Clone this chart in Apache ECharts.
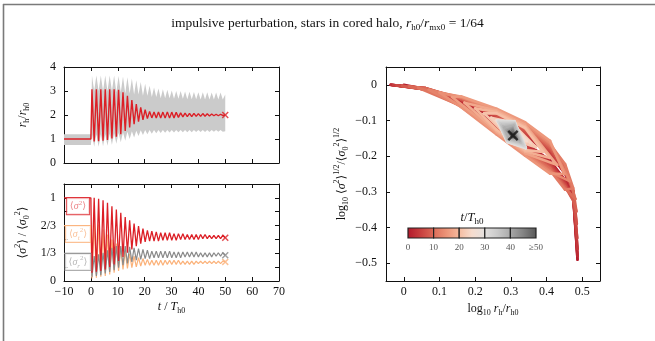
<!DOCTYPE html>
<html>
<head>
<meta charset="utf-8">
<title>impulsive perturbation, stars in cored halo</title>
<script src="https://cdn.jsdelivr.net/npm/echarts@6.0.0/dist/echarts.min.js"></script>
<style>
html,body{margin:0;padding:0;background:#fff;}
#chart{width:655px;height:341px;}
</style>
</head>
<body>
<div id="chart"></div>
<script>
// ---- time samples (oscillation extrema) shared by the two left panels ----
const tSamples = [-10, 0,
  0.40, 1.23, 2.05, 2.88, 3.70, 4.53, 5.35, 6.18, 7.00, 7.83,
  8.65, 9.48, 10.30, 11.13, 11.95, 12.78, 13.60, 14.43, 15.25, 16.08,
  16.90, 17.73, 18.55, 19.38, 20.20, 21.03, 21.85, 22.68, 23.50, 24.33,
  25.15, 25.98, 26.80, 27.63, 28.45, 29.28, 30.10, 30.93, 31.75, 32.58,
  33.40, 34.23, 35.05, 35.88, 36.70, 37.53, 38.35, 39.18, 40.00, 40.83,
  41.65, 42.48, 43.30, 44.13, 44.95, 45.78, 46.60, 47.43, 48.25, 49.08,
  50];

// half-light radius r_h / r_h0
const rhRatio = [1, 1,
  3.07, 0.90, 3.07, 0.91, 3.07, 0.93, 3.07, 0.96, 3.07, 1.02,
  3.07, 1.10, 3.05, 1.20, 2.95, 1.33, 2.80, 1.48, 2.62, 1.62,
  2.45, 1.72, 2.32, 1.80, 2.22, 1.85, 2.15, 1.88, 2.12, 1.88,
  2.12, 1.88, 2.12, 1.87, 2.13, 1.87, 2.12, 1.88, 2.11, 1.90,
  2.09, 1.92, 2.08, 1.93, 2.07, 1.93, 2.07, 1.94, 2.06, 1.94,
  2.06, 1.95, 2.05, 1.96, 2.04, 1.97, 2.03, 1.97, 2.03, 1.98,
  2.00];

// spread of r_h / r_h0 (upper and lower edge of the grey band)
const rhBandHi = [1.20, 1.20,
  3.65, 3.00, 3.65, 3.00, 3.65, 3.00, 3.65, 3.00, 3.65, 3.00,
  3.65, 2.95, 3.63, 2.95, 3.60, 2.90, 3.57, 2.90, 3.52, 2.85,
  3.45, 2.85, 3.38, 2.80, 3.30, 2.80, 3.22, 2.75, 3.15, 2.75,
  3.10, 2.70, 3.07, 2.70, 3.05, 2.70, 3.02, 2.68, 3.00, 2.68,
  3.00, 2.68, 2.98, 2.66, 2.97, 2.66, 2.96, 2.66, 2.95, 2.65,
  2.95, 2.65, 2.95, 2.65, 2.94, 2.65, 2.94, 2.65, 2.94, 2.65,
  2.85];
const rhBandLo = [0.75, 0.75,
  1.20, 0.68, 1.20, 0.68, 1.20, 0.70, 1.20, 0.72, 1.22, 0.76,
  1.24, 0.80, 1.26, 0.86, 1.28, 0.93, 1.30, 1.00, 1.32, 1.06,
  1.34, 1.12, 1.36, 1.17, 1.37, 1.20, 1.38, 1.22, 1.38, 1.24,
  1.38, 1.25, 1.38, 1.26, 1.38, 1.27, 1.38, 1.27, 1.38, 1.28,
  1.38, 1.28, 1.38, 1.28, 1.38, 1.28, 1.38, 1.29, 1.38, 1.29,
  1.38, 1.29, 1.38, 1.29, 1.38, 1.30, 1.38, 1.30, 1.38, 1.30,
  1.32];

// velocity dispersions relative to <sigma_0^2>
const sigmaTot = [1, 1,
  0.10, 1.00, 0.11, 0.99, 0.12, 0.97, 0.14, 0.94, 0.17, 0.90,
  0.20, 0.86, 0.24, 0.82, 0.29, 0.77, 0.34, 0.73, 0.38, 0.69,
  0.42, 0.66, 0.45, 0.63, 0.47, 0.61, 0.48, 0.60, 0.48, 0.59,
  0.48, 0.58, 0.49, 0.58, 0.49, 0.58, 0.49, 0.57, 0.49, 0.57,
  0.50, 0.57, 0.50, 0.56, 0.50, 0.56, 0.50, 0.56, 0.50, 0.56,
  0.51, 0.56, 0.51, 0.55, 0.51, 0.55, 0.51, 0.55, 0.51, 0.55,
  0.52];
const sigmaTan = [0.6667, 0.6667,
  0.03, 0.72, 0.04, 0.68, 0.05, 0.62, 0.06, 0.56, 0.08, 0.50,
  0.10, 0.45, 0.12, 0.40, 0.14, 0.36, 0.15, 0.33, 0.16, 0.30,
  0.17, 0.28, 0.18, 0.27, 0.19, 0.26, 0.19, 0.25, 0.19, 0.25,
  0.19, 0.25, 0.19, 0.25, 0.20, 0.25, 0.20, 0.25, 0.20, 0.25,
  0.20, 0.24, 0.20, 0.24, 0.20, 0.24, 0.20, 0.24, 0.21, 0.24,
  0.21, 0.24, 0.21, 0.24, 0.21, 0.24, 0.21, 0.24, 0.21, 0.24,
  0.23];
const sigmaRad = [0.3333, 0.3333,
  0.05, 0.30, 0.06, 0.32, 0.07, 0.34, 0.09, 0.37, 0.11, 0.40,
  0.13, 0.42, 0.16, 0.42, 0.19, 0.42, 0.21, 0.41, 0.23, 0.40,
  0.25, 0.39, 0.26, 0.38, 0.27, 0.37, 0.27, 0.36, 0.28, 0.36,
  0.28, 0.36, 0.28, 0.36, 0.28, 0.36, 0.28, 0.35, 0.28, 0.35,
  0.28, 0.35, 0.29, 0.35, 0.29, 0.35, 0.29, 0.35, 0.29, 0.34,
  0.29, 0.34, 0.29, 0.34, 0.29, 0.34, 0.30, 0.34, 0.30, 0.34,
  0.31];

// trajectory in the log plane: [t/T_h0, log10 r_h/r_h0, log10 <sigma^2>^1/2/<sigma_0^2>^1/2]
const lensPath = [
  [0, 0, 0],
  [0.05, 0.06, -0.012], [0.1, 0.16, -0.050], [0.15, 0.26, -0.110], [0.2, 0.34, -0.161],
  [0.25, 0.41, -0.212], [0.3, 0.452, -0.267], [0.35, 0.475, -0.315], [0.4, 0.487, -0.49],
  [0.5, 0.475, -0.305], [0.6, 0.452, -0.249], [0.7, 0.41, -0.194], [0.8, 0.34, -0.143],
  [0.9, 0.26, -0.096], [1.0, 0.16, -0.044], [1.1, 0.06, -0.010], [1.23, -0.037, 0],
  [1.3, 0.06, -0.012], [1.4, 0.16, -0.051], [1.5, 0.26, -0.112], [1.6, 0.34, -0.164],
  [1.7, 0.41, -0.215], [1.8, 0.452, -0.269], [1.9, 0.475, -0.316], [2.05, 0.487, -0.48],
  [2.15, 0.475, -0.304], [2.25, 0.452, -0.247], [2.35, 0.41, -0.191], [2.45, 0.34, -0.140],
  [2.55, 0.26, -0.094], [2.65, 0.16, -0.043], [2.75, 0.06, -0.010], [2.88, -0.036, 0],
  [2.95, 0.06, -0.012], [3.05, 0.16, -0.052], [3.15, 0.26, -0.114], [3.25, 0.34, -0.166],
  [3.35, 0.41, -0.217], [3.45, 0.452, -0.272], [3.55, 0.475, -0.318], [3.7, 0.487, -0.46],
  [3.8, 0.475, -0.303], [3.9, 0.452, -0.245], [4.0, 0.41, -0.189], [4.1, 0.34, -0.138],
  [4.2, 0.26, -0.092], [4.3, 0.16, -0.043], [4.4, 0.06, -0.010], [4.53, -0.03, -0.001],
  [4.6, 0.06, -0.013], [4.7, 0.16, -0.053], [4.8, 0.26, -0.117], [4.9, 0.34, -0.171],
  [5.0, 0.41, -0.221], [5.1, 0.452, -0.276], [5.2, 0.475, -0.320], [5.35, 0.486, -0.43],
  [5.45, 0.475, -0.300], [5.55, 0.452, -0.240], [5.65, 0.41, -0.185], [5.75, 0.34, -0.133],
  [5.85, 0.26, -0.089], [5.95, 0.16, -0.041], [6.05, 0.06, -0.009], [6.18, -0.02, -0.002],
  [6.25, 0.06, -0.013], [6.35, 0.16, -0.055], [6.45, 0.26, -0.121], [6.55, 0.34, -0.176],
  [6.65, 0.41, -0.226], [6.75, 0.452, -0.281], [6.85, 0.475, -0.323], [7.0, 0.485, -0.39],
  [7.1, 0.475, -0.298], [7.2, 0.452, -0.236], [7.3, 0.41, -0.180], [7.4, 0.34, -0.129],
  [7.5, 0.26, -0.085], [7.6, 0.16, -0.040], [7.7, 0.06, -0.009], [7.83, -0.005, -0.003],
  [7.9, 0.06, -0.013], [8.0, 0.16, -0.056], [8.1, 0.26, -0.125], [8.2, 0.34, -0.180],
  [8.3, 0.41, -0.231], [8.4, 0.452, -0.285], [8.5, 0.475, -0.325], [8.65, 0.484, -0.355],
  [8.75, 0.475, -0.295], [8.85, 0.452, -0.231], [8.95, 0.41, -0.175], [9.05, 0.34, -0.124],
  [9.15, 0.26, -0.081], [9.25, 0.16, -0.038], [9.35, 0.06, -0.009], [9.48, 0.015, -0.005],
  [9.55, 0.06, -0.014], [9.65, 0.16, -0.058], [9.8, 0.26, -0.128], [9.95, 0.34, -0.185],
  [10.05, 0.41, -0.235], [10.15, 0.452, -0.290], [10.3, 0.481, -0.32],
  [10.4, 0.452, -0.226], [10.5, 0.41, -0.171], [10.65, 0.34, -0.119], [10.8, 0.26, -0.078],
  [10.95, 0.16, -0.036], [11.13, 0.04, -0.008],
  [11.25, 0.16, -0.059], [11.4, 0.26, -0.132], [11.55, 0.34, -0.190], [11.7, 0.41, -0.240],
  [11.8, 0.452, -0.294], [11.95, 0.475, -0.29],
  [12.05, 0.452, -0.222], [12.2, 0.41, -0.166], [12.35, 0.34, -0.114], [12.5, 0.26, -0.074],
  [12.65, 0.16, -0.035], [12.78, 0.07, -0.014],
  [12.9, 0.16, -0.061], [13.05, 0.26, -0.135], [13.2, 0.34, -0.194], [13.4, 0.41, -0.244],
  [13.6, 0.465, -0.27],
  [13.75, 0.41, -0.162], [13.9, 0.34, -0.110], [14.05, 0.26, -0.071], [14.25, 0.16, -0.033],
  [14.43, 0.10, -0.022],
  [14.5, 0.16, -0.062], [14.7, 0.26, -0.139], [14.9, 0.34, -0.199], [15.05, 0.41, -0.249],
  [15.25, 0.45, -0.25],
  [15.4, 0.41, -0.157], [15.55, 0.34, -0.105], [15.75, 0.26, -0.067], [15.95, 0.16, -0.032],
  [16.08, 0.135, -0.034],
  [16.35, 0.26, -0.134], [16.6, 0.34, -0.192], [16.9, 0.43, -0.225],
  [17.15, 0.34, -0.112], [17.45, 0.26, -0.072], [17.73, 0.17, -0.05],
  [18.0, 0.26, -0.130], [18.3, 0.34, -0.187], [18.55, 0.41, -0.205],
  [18.8, 0.34, -0.117], [19.1, 0.26, -0.076], [19.38, 0.2, -0.066],
  [19.55, 0.26, -0.126], [19.95, 0.34, -0.183], [20.2, 0.39, -0.188],
  [20.45, 0.34, -0.121], [20.8, 0.26, -0.080], [21.03, 0.225, -0.08],
  [21.45, 0.30, -0.152], [21.85, 0.37, -0.175],
  [22.25, 0.30, -0.104], [22.68, 0.245, -0.092],
  [23.1, 0.30, -0.150], [23.5, 0.355, -0.163],
  [23.9, 0.30, -0.106], [24.33, 0.258, -0.1],
  [24.75, 0.30, -0.148], [25.15, 0.345, -0.157],
  [25.55, 0.30, -0.108], [25.98, 0.266, -0.106],
  [26.4, 0.30, -0.148], [26.8, 0.338, -0.152],
  [27.2, 0.30, -0.104], [27.63, 0.262, -0.1],
  [28.05, 0.29, -0.16], [28.45, 0.342, -0.176],
  [28.85, 0.31, -0.102], [29.28, 0.262, -0.1],
  [29.7, 0.29, -0.16], [30.1, 0.342, -0.178],
  [30.5, 0.31, -0.103], [30.93, 0.264, -0.101],
  [31.35, 0.29, -0.158], [31.75, 0.34, -0.174],
  [32.15, 0.31, -0.105], [32.58, 0.266, -0.104],
  [33.0, 0.29, -0.156], [33.4, 0.336, -0.17],
  [33.8, 0.31, -0.107], [34.23, 0.27, -0.108],
  [34.65, 0.29, -0.154], [35.05, 0.332, -0.166],
  [35.45, 0.31, -0.109], [35.88, 0.274, -0.112],
  [36.3, 0.29, -0.152], [36.7, 0.328, -0.162],
  [37.1, 0.31, -0.112], [37.53, 0.278, -0.116],
  [37.95, 0.292, -0.15], [38.35, 0.325, -0.158],
  [38.75, 0.308, -0.115], [39.18, 0.282, -0.12],
  [39.6, 0.294, -0.148], [40.0, 0.322, -0.154],
  [40.4, 0.305, -0.12], [40.83, 0.288, -0.126],
  [41.25, 0.305, -0.147], [41.65, 0.318, -0.15],
  [42.05, 0.305, -0.123], [42.48, 0.291, -0.129],
  [42.9, 0.305, -0.147], [43.3, 0.316, -0.149],
  [43.7, 0.305, -0.126], [44.13, 0.293, -0.131],
  [44.55, 0.305, -0.146], [44.95, 0.315, -0.148],
  [45.35, 0.305, -0.129], [45.78, 0.296, -0.134],
  [46.2, 0.305, -0.146], [46.6, 0.313, -0.146],
  [47.0, 0.305, -0.133], [47.43, 0.298, -0.136],
  [47.85, 0.305, -0.145], [48.25, 0.311, -0.145],
  [48.65, 0.305, -0.137], [49.08, 0.301, -0.139],
  [50.0, 0.306, -0.142]
];

// tick values and labels
const sigmaTickLabels = {0: '0', 2: '1/3', 4: '2/3', 6: '1'};   // keyed by sixths
const logRTicks = [0, 0.1, 0.2, 0.3, 0.4, 0.5];
const logSTicks = [-0.5, -0.4, -0.3, -0.2, -0.1, 0];
const cbFrom = [0, 10, 20, 30, 40];
const cbTo = [10, 20, 30, 40, 50];

// ---- styling ----
const SERIF = "'Liberation Serif','DejaVu Serif',serif";
const INK = '#111111';
const RED = '#dc1f26', ORANGE = '#fbb27a', GREY = '#8a8a8a', BAND = '#cbcbcb';
const timePalette = ['#b2182b', '#c8403f', '#dc6c59', '#ec9478', '#f6bb9f', '#f6dcce',
                     '#e3e1e0', '#c9c9c9', '#a9a9a9', '#838383', '#575757'];
const tColor = t => echarts.color.lerp(Math.max(0, Math.min(t, 50)) / 50, timePalette);
const CROSS = 'path://M0,1.5L1.5,0L5,3.5L8.5,0L10,1.5L6.5,5L10,8.5L8.5,10L5,6.5L1.5,10L0,8.5L3.5,5Z';

function richStyles(fs, color) {
  const s = Math.round(fs * 0.7);
  const base = {fontFamily: SERIF, fontWeight: 'normal', color: color};
  return {
    n: Object.assign({fontSize: fs, lineHeight: fs + 5}, base),
    i: Object.assign({fontSize: fs, fontStyle: 'italic', lineHeight: fs + 5}, base),
    sb: Object.assign({fontSize: s, lineHeight: s + 1, verticalAlign: 'bottom'}, base),
    sbi: Object.assign({fontSize: s, fontStyle: 'italic', lineHeight: s + 1, verticalAlign: 'bottom'}, base),
    sp: Object.assign({fontSize: s, lineHeight: s + 1, verticalAlign: 'top'}, base)
  };
}
const minus = v => (v < 0 ? '\u2212' : '') + Math.abs(v);
const labelStyle = {show: true, color: INK, fontFamily: SERIF, fontSize: 12};

function frameAxis(grid, pos, min, max, extra) {
  return Object.assign({
    type: 'value', gridIndex: grid, position: pos, min: min, max: max,
    axisLine: {show: true, onZero: false, lineStyle: {color: INK, width: 1}},
    axisTick: {show: true, inside: true, length: 4, lineStyle: {color: INK, width: 1}},
    axisLabel: {show: false},
    splitLine: {show: false}
  }, extra || {});
}
const tickStyle = {show: true, inside: true, length: 4, lineStyle: {color: INK, width: 1}};

const last = tSamples.length - 1;
const lensEnd = lensPath[lensPath.length - 1];

function bandRender(params, api) {
  if (params.dataIndex !== 0) return null;
  const pts = [];
  for (let i = 0; i < tSamples.length; i++) pts.push(api.coord([tSamples[i], rhBandHi[i]]));
  for (let i = tSamples.length - 1; i >= 0; i--) pts.push(api.coord([tSamples[i], rhBandLo[i]]));
  return {type: 'polygon', shape: {points: pts}, style: {fill: BAND}};
}

function lensRender(params, api) {
  const i = params.dataIndex;
  if (i === 0) return null;
  const a = lensPath[i - 1], b = lensPath[i];
  const p = api.coord([a[1], a[2]]), q = api.coord([b[1], b[2]]);
  return {
    type: 'line',
    shape: {x1: p[0], y1: p[1], x2: q[0], y2: q[1]},
    style: {stroke: tColor((a[0] + b[0]) / 2), lineWidth: 2.6, lineCap: 'round'}
  };
}

function colorbarRender(params, api) {
  const a = api.value(0), b = api.value(1);
  const p = api.coord([a, 1]), q = api.coord([b, 0]);
  return {
    type: 'rect',
    shape: {x: p[0], y: p[1], width: q[0] - p[0], height: q[1] - p[1]},
    style: {
      fill: new echarts.graphic.LinearGradient(0, 0, 1, 0, [
        {offset: 0, color: tColor(a)},
        {offset: 0.5, color: tColor((a + b) / 2)},
        {offset: 1, color: tColor(b)}
      ]),
      stroke: '#222', lineWidth: 1.2
    }
  };
}

function boxLabel(text, border, color) {
  return {
    show: true, position: 'inside', formatter: text,
    backgroundColor: '#fff', borderColor: border, borderWidth: 1,
    padding: [1, 3, 0, 3], rich: richStyles(10, color)
  };
}

const gridBase = {containLabel: false, outerBoundsMode: 'none'};

const option = {
  animation: false,
  backgroundColor: '#fff',
  title: {
    left: 'center', top: 9,
    text: '{n|impulsive perturbation, stars in cored halo, }{i|r}{sb|h0}{n|/}{i|r}{sb|mx0}{n| = 1/64}',
    textStyle: {fontWeight: 'normal', rich: richStyles(13.5, INK)}
  },
  graphic: [
    {type: 'line', shape: {x1: 3, y1: 4.5, x2: 655, y2: 4.5}, style: {stroke: '#7a7a7a', lineWidth: 1.6}},
    {type: 'line', shape: {x1: 3.5, y1: 4, x2: 3.5, y2: 341}, style: {stroke: '#7a7a7a', lineWidth: 1.6}}
  ],
  grid: [
    Object.assign({left: 64, top: 67, width: 215, height: 96}, gridBase),
    Object.assign({left: 64, top: 184, width: 215, height: 97}, gridBase),
    Object.assign({left: 386, top: 67, width: 214, height: 214}, gridBase),
    Object.assign({left: 408, top: 228, width: 128, height: 10}, gridBase)
  ],
  xAxis: [
    frameAxis(0, 'bottom', -10, 70, {interval: 10}),
    frameAxis(0, 'top', -10, 70, {interval: 10}),
    frameAxis(1, 'bottom', -10, 70, {
      interval: 10,
      axisLabel: Object.assign({margin: 5, formatter: minus}, labelStyle),
      name: '{i|t}{n| / }{i|T}{sb|h0}', nameLocation: 'middle', nameGap: 17,
      nameTextStyle: {rich: richStyles(12, INK)}
    }),
    frameAxis(1, 'top', -10, 70, {interval: 10}),
    frameAxis(2, 'bottom', -0.05, 0.55, {
      axisTick: Object.assign({customValues: logRTicks}, tickStyle),
      axisLabel: Object.assign({margin: 5, customValues: logRTicks,
        formatter: v => (v === 0 ? '0' : v.toFixed(1))}, labelStyle),
      name: '{n|log}{sb|10}{n| }{i|r}{sb|h}{n|/}{i|r}{sb|h0}', nameLocation: 'middle', nameGap: 17,
      nameTextStyle: {rich: richStyles(12, INK)}
    }),
    frameAxis(2, 'top', -0.05, 0.55, {axisTick: Object.assign({customValues: logRTicks}, tickStyle)}),
    {
      type: 'value', gridIndex: 3, position: 'bottom', min: 0, max: 50, interval: 10,
      axisLine: {show: false}, axisTick: {show: false}, splitLine: {show: false},
      axisLabel: {show: true, color: '#555', fontFamily: SERIF, fontSize: 9, margin: 5,
        formatter: v => (v === 50 ? '\u226550' : String(v))}
    },
    {
      type: 'value', gridIndex: 3, position: 'top', min: 0, max: 50,
      axisLine: {show: false}, axisTick: {show: false}, splitLine: {show: false}, axisLabel: {show: false},
      name: '{i|t}{n|/}{i|T}{sb|h0}', nameLocation: 'middle', nameGap: 2,
      nameTextStyle: {rich: richStyles(12.5, INK)}
    }
  ],
  yAxis: [
    frameAxis(0, 'left', 0, 4, {
      interval: 1,
      axisLabel: Object.assign({margin: 8}, labelStyle),
      name: '{i|r}{sb|h}{n|/}{i|r}{sb|h0}', nameLocation: 'middle', nameGap: 33, nameRotate: 90,
      nameTextStyle: {rich: richStyles(12, INK)}
    }),
    frameAxis(0, 'right', 0, 4, {interval: 1}),
    frameAxis(1, 'left', 0, 7 / 6, {
      interval: 1 / 6,
      axisLabel: Object.assign({margin: 8,
        formatter: v => sigmaTickLabels[Math.round(v * 6)] || ''}, labelStyle),
      name: '{n|\u27e8}{i|\u03c3}{sp|2}{n|\u27e9 / \u27e8}{i|\u03c3}{sb|0}{sp|2}{n|\u27e9}',
      nameLocation: 'middle', nameGap: 33, nameRotate: 90,
      nameTextStyle: {rich: richStyles(12, INK)}
    }),
    frameAxis(1, 'right', 0, 7 / 6, {interval: 1 / 6}),
    frameAxis(2, 'left', -0.55, 0.05, {
      axisTick: Object.assign({customValues: logSTicks}, tickStyle),
      axisLabel: Object.assign({margin: 9, customValues: logSTicks,
        formatter: v => (v === 0 ? '0' : '\u2212' + Math.abs(v).toFixed(1))}, labelStyle),
      name: '{n|log}{sb|10}{n| \u27e8}{i|\u03c3}{sp|2}{n|\u27e9}{sp|1/2}{n|/\u27e8}{i|\u03c3}{sb|0}{sp|2}{n|\u27e9}{sp|1/2}',
      nameLocation: 'middle', nameGap: 36, nameRotate: 90,
      nameTextStyle: {rich: richStyles(12, INK)}
    }),
    frameAxis(2, 'right', -0.55, 0.05, {axisTick: Object.assign({customValues: logSTicks}, tickStyle)}),
    {type: 'value', gridIndex: 3, min: 0, max: 1, show: false}
  ],
  series: [
    // spread band of r_h
    {
      type: 'custom', xAxisIndex: 0, yAxisIndex: 0, z: 1, silent: true,
      data: tSamples.map((t, i) => [t, rhBandLo[i], rhBandHi[i]]),
      encode: {x: 0, y: [1, 2]}, renderItem: bandRender
    },
    {
      type: 'line', xAxisIndex: 0, yAxisIndex: 0, z: 3, showSymbol: false, silent: true,
      data: tSamples.map((t, i) => [t, rhRatio[i]]),
      lineStyle: {color: RED, width: 1.4}, itemStyle: {color: RED}
    },
    {
      type: 'scatter', xAxisIndex: 0, yAxisIndex: 0, z: 4, silent: true,
      symbol: CROSS, symbolSize: 7, itemStyle: {color: RED},
      data: [[tSamples[last], rhRatio[last]]]
    },
    // dispersions
    {
      type: 'line', xAxisIndex: 2, yAxisIndex: 2, z: 2, showSymbol: false, silent: true,
      data: tSamples.map((t, i) => [t, sigmaTan[i]]),
      lineStyle: {color: ORANGE, width: 1.2}, itemStyle: {color: ORANGE}
    },
    {
      type: 'line', xAxisIndex: 2, yAxisIndex: 2, z: 3, showSymbol: false, silent: true,
      data: tSamples.map((t, i) => [t, sigmaRad[i]]),
      lineStyle: {color: GREY, width: 1.2}, itemStyle: {color: GREY}
    },
    {
      type: 'line', xAxisIndex: 2, yAxisIndex: 2, z: 4, showSymbol: false, silent: true,
      data: tSamples.map((t, i) => [t, sigmaTot[i]]),
      lineStyle: {color: RED, width: 1.3}, itemStyle: {color: RED}
    },
    {
      type: 'scatter', xAxisIndex: 2, yAxisIndex: 2, z: 5, silent: true,
      symbol: CROSS, symbolSize: 7,
      data: [
        {value: [tSamples[last], sigmaTan[last]], itemStyle: {color: ORANGE}},
        {value: [tSamples[last], sigmaRad[last]], itemStyle: {color: GREY}},
        {value: [tSamples[last], sigmaTot[last]], itemStyle: {color: RED}}
      ]
    },
    {
      type: 'scatter', xAxisIndex: 2, yAxisIndex: 2, z: 6, silent: true,
      symbolSize: 0.1, itemStyle: {color: 'rgba(0,0,0,0)'},
      data: [
        {value: [-4.8, 0.90], label: boxLabel('{n|\u27e8}{i|\u03c3}{sp|2}{n|\u27e9}', RED, '#e8686b')},
        {value: [-4.8, 0.566], label: boxLabel('{n|\u27e8}{i|\u03c3}{sbi|t}{sp|2}{n|\u27e9}', ORANGE, '#f9b382')},
        {value: [-4.8, 0.229], label: boxLabel('{n|\u27e8}{i|\u03c3}{sbi|r}{sp|2}{n|\u27e9}', '#9a9a9a', '#a5a5a5')}
      ]
    },
    // trajectory coloured by time
    {
      type: 'custom', xAxisIndex: 4, yAxisIndex: 4, z: 2, silent: true,
      data: lensPath.map(p => [p[1], p[2], p[0]]),
      encode: {x: 0, y: 1}, renderItem: lensRender
    },
    {
      type: 'scatter', xAxisIndex: 4, yAxisIndex: 4, z: 5, silent: true,
      symbol: CROSS, symbolSize: 11, itemStyle: {color: '#111'},
      data: [[lensEnd[1], lensEnd[2]]]
    },
    // colour bar
    {
      type: 'custom', xAxisIndex: 6, yAxisIndex: 6, z: 5, silent: true,
      data: cbFrom.map((a, i) => [a, cbTo[i]]),
      encode: {x: [0, 1]}, renderItem: colorbarRender
    }
  ]
};

const chart = echarts.init(document.getElementById('chart'), null, {renderer: 'canvas'});
chart.setOption(option);
</script>
</body>
</html>
